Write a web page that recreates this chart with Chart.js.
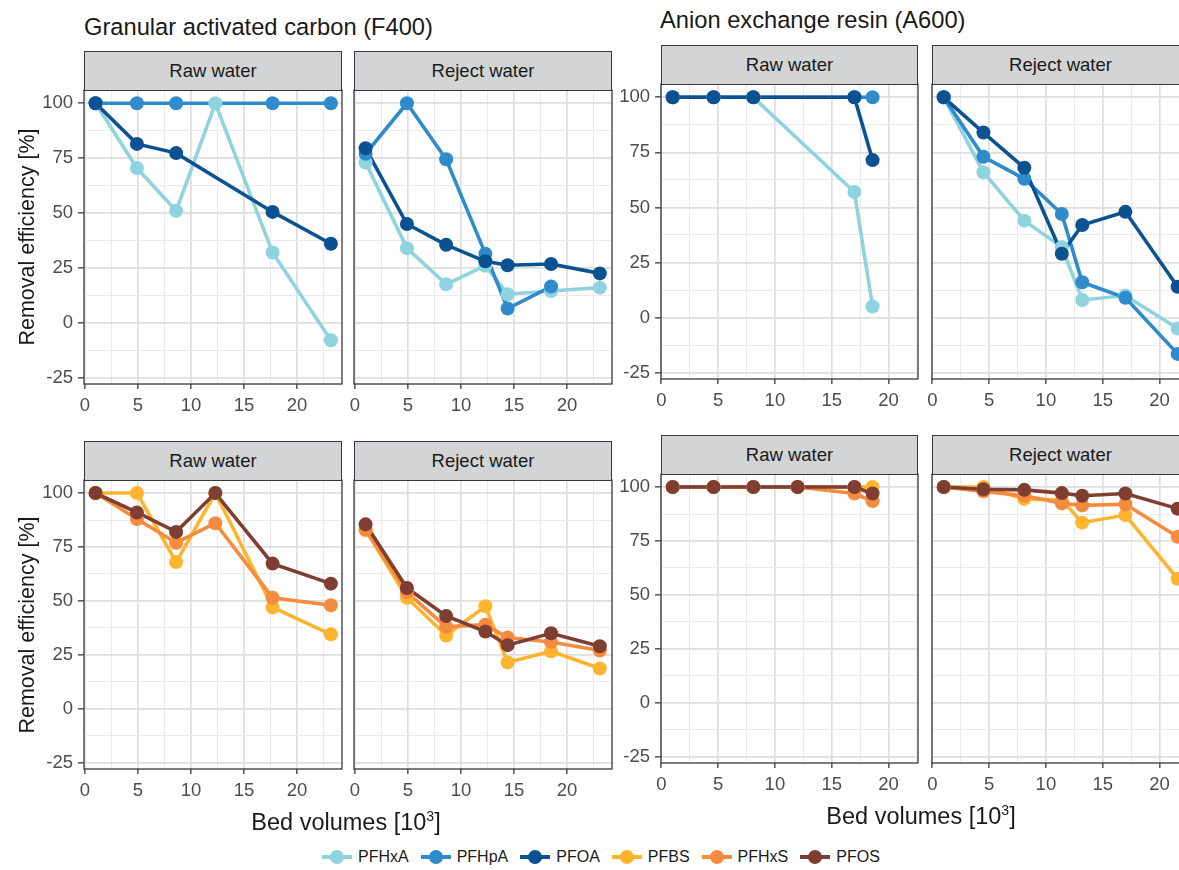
<!DOCTYPE html>
<html>
<head>
<meta charset="utf-8">
<script src="https://cdn.jsdelivr.net/npm/chart.js@4.4.1/dist/chart.umd.min.js"></script>
<style>
html,body{margin:0;padding:0;background:#fff;overflow:hidden;}
#fig{position:relative;width:1179px;height:870px;overflow:hidden;background:#fff;font-family:"Liberation Sans",Arial,Helvetica,sans-serif;color:#1a1a1a;}
#fig canvas{position:absolute;}
.txt{position:absolute;white-space:nowrap;line-height:1;}
.strip{position:absolute;box-sizing:border-box;background:#d3d4d5;border:1.3px solid #333a3d;display:flex;align-items:center;justify-content:center;font-size:18.5px;color:#1a1a1a;}
.ctr{position:absolute;width:0;height:0;}
.ctr span{position:absolute;left:0;top:0;white-space:nowrap;line-height:1;color:#1a1a1a;transform:translate(-50%,-50%);}
.ctr.rot span{transform:translate(-50%,-50%) rotate(-90deg);}
sup{font-size:60%;vertical-align:0;position:relative;top:-0.62em;}
#legend{position:absolute;left:322px;top:847px;height:20px;display:flex;align-items:center;font-size:16px;color:#1a1a1a;}
.li{display:flex;align-items:center;margin-right:12px;}
.sym{position:relative;width:30px;height:20px;margin-right:6px;}
.sym .ln{position:absolute;left:0;top:8.3px;width:30px;height:3.4px;}
.sym .pt{position:absolute;left:8px;top:3px;width:14px;height:14px;border-radius:50%;}
</style>
</head>
<body>
<div id="fig"></div>
<script>
// ---------- series / legend ----------
const legendNames  = ['PFHxA','PFHpA','PFOA','PFBS','PFHxS','PFOS'];
const legendColors = ['#8fd3df','#2f8bcb','#0c5191','#fdb42f','#f58b3f','#7e3e32'];
const seriesTop    = ['PFHxA','PFHpA','PFOA'];
const seriesBottom = ['PFBS','PFHxS','PFOS'];

// ---------- axis ticks ----------
const xTickValues  = [0, 5, 10, 15, 20];
const xMinorTicks  = [2.5, 7.5, 12.5, 17.5, 22.5];
const yTickValues  = [-25, 0, 25, 50, 75, 100];
const yMinorTicks  = [-12.5, 12.5, 37.5, 62.5, 87.5];
const yRange       = [-27.9, 106.05];
const xRangeF400   = [-0.094, 24.25];
const xRangeA600   = [-0.03, 22.6];

// ---------- bed volumes [10^3] ----------
const bvF400Raw    = [1.0, 4.9, 8.6, 12.3, 17.7, 23.2];
const bvF400Reject = [1.0, 4.9, 8.6, 12.3, 14.4, 18.5, 23.1];
const bvA600Raw    = [1.0, 4.6, 8.1, 12.0, 17.0, 18.6];
const bvA600Reject = [1.0, 4.5, 8.1, 11.4, 13.2, 17.0, 21.6];

// ---------- removal efficiency [%] : F400 raw water ----------
const f400RawPFHxA = [100, 70.5, 51, 100, 32, -8];
const f400RawPFHpA = [100, 100, 100, null, 100, 100];
const f400RawPFOA  = [100, 81.5, 77.3, null, 50.5, 36];
const f400RawPFBS  = [100, 100, 68, 100, 47, 34.5];
const f400RawPFHxS = [100, 88, 77, 86, 51.5, 48];
const f400RawPFOS  = [100, 91, 82, 100, 67.3, 58];

// ---------- F400 reject water ----------
const f400RejPFHxA = [73, 34, 17.5, 26, 13, 14.5, 16];
const f400RejPFHpA = [77, 100, 74.5, 31.5, 6.5, 16.5, null];
const f400RejPFOA  = [79.5, 45, 35.5, 28, 26.2, 26.8, 22.5];
const f400RejPFBS  = [83, 51.5, 34, 47.5, 21.5, 26.7, 18.7];
const f400RejPFHxS = [83, 54, 38, 39, 33, 31, 27];
const f400RejPFOS  = [85.5, 56, 43, 35.8, 29.5, 35, 29];

// ---------- A600 raw water ----------
const a600RawPFHxA = [100, 100, 100, null, 57, 5];
const a600RawPFHpA = [100, 100, 100, null, 100, 100];
const a600RawPFOA  = [100, 100, 100, null, 100, 71.5];
const a600RawPFBS  = [100, 100, 100, 100, 100, 100];
const a600RawPFHxS = [100, 100, 100, 100, 97, 93.5];
const a600RawPFOS  = [100, 100, 100, 100, 100, 97];

// ---------- A600 reject water ----------
const a600RejPFHxA = [100, 66, 44, 32, 8, 10, -5];
const a600RejPFHpA = [100, 73, 63, 47, 16, 9, -16.5];
const a600RejPFOA  = [100, 84, 68, 29, 42, 48, 14];
const a600RejPFBS  = [100, 100, 94.5, 94, 83.5, 87, 57.5];
const a600RejPFHxS = [100, 98, 96, 92.5, 91.5, 92, 77];
const a600RejPFOS  = [100, 99, 98.7, 97.2, 96, 97, 90];

// ---------- layout ----------
const fig = document.getElementById('fig');
const FONT = '"Liberation Sans", Arial, Helvetica, sans-serif';
const YW = 70, XH = 40, M = 20;

const panels = [
  {strip:'Raw water',    l:84,  t:90,  w:258, h:294, st:51,  xr:xRangeF400, yl:true,  x:bvF400Raw,    names:seriesTop,    ys:[f400RawPFHxA, f400RawPFHpA, f400RawPFOA]},
  {strip:'Reject water', l:354, t:90,  w:258, h:294, st:51,  xr:xRangeF400, yl:false, x:bvF400Reject, names:seriesTop,    ys:[f400RejPFHxA, f400RejPFHpA, f400RejPFOA]},
  {strip:'Raw water',    l:84,  t:480, w:258, h:289, st:441, xr:xRangeF400, yl:true,  x:bvF400Raw,    names:seriesBottom, ys:[f400RawPFBS, f400RawPFHxS, f400RawPFOS]},
  {strip:'Reject water', l:354, t:480, w:258, h:289, st:441, xr:xRangeF400, yl:false, x:bvF400Reject, names:seriesBottom, ys:[f400RejPFBS, f400RejPFHxS, f400RejPFOS]},
  {strip:'Raw water',    l:661, t:84,  w:257, h:295, st:45,  xr:xRangeA600, yl:true,  x:bvA600Raw,    names:seriesTop,    ys:[a600RawPFHxA, a600RawPFHpA, a600RawPFOA]},
  {strip:'Reject water', l:932, t:84,  w:257, h:295, st:45,  xr:xRangeA600, yl:false, x:bvA600Reject, names:seriesTop,    ys:[a600RejPFHxA, a600RejPFHpA, a600RejPFOA]},
  {strip:'Raw water',    l:661, t:474, w:257, h:289, st:435, xr:xRangeA600, yl:true,  x:bvA600Raw,    names:seriesBottom, ys:[a600RawPFBS, a600RawPFHxS, a600RawPFOS]},
  {strip:'Reject water', l:932, t:474, w:257, h:289, st:435, xr:xRangeA600, yl:false, x:bvA600Reject, names:seriesBottom, ys:[a600RejPFBS, a600RejPFHxS, a600RejPFOS]}
];

const isMajor = (v, list) => list.some(m => Math.abs(m - v) < 1e-9);

const borderPlugin = {
  id: 'panelBorder',
  afterDraw(chart) {
    const a = chart.chartArea, c = chart.ctx;
    c.save();
    c.strokeStyle = '#333a3d';
    c.lineWidth = 1.3;
    c.strokeRect(a.left, a.top, a.right - a.left, a.bottom - a.top);
    c.restore();
  }
};

function makePanel(p) {
  const c = document.createElement('canvas');
  const cw = YW + p.w + M, ch = M + p.h + XH;
  c.width = cw; c.height = ch;
  c.style.left = (p.l - YW) + 'px';
  c.style.top = (p.t - M) + 'px';
  c.style.width = cw + 'px';
  c.style.height = ch + 'px';
  fig.appendChild(c);

  const datasets = [];
  p.names.forEach((name, i) => {
    const col = legendColors[legendNames.indexOf(name)];
    const pts = p.x.map((x, j) => ({x: x, y: p.ys[i][j]})).filter(d => d.y !== null);
    datasets.push({label: name + ' line', data: pts, borderColor: col, backgroundColor: col,
      borderWidth: 3.6, pointRadius: 0, tension: 0, order: 10 + (2 - i)});
    datasets.push({label: name, data: pts, showLine: false, borderColor: col, backgroundColor: col,
      pointBackgroundColor: col, pointBorderWidth: 0, pointRadius: 7, order: 2 - i});
  });

  const xAll = xTickValues.concat(xMinorTicks).filter(v => v >= p.xr[0] && v <= p.xr[1]).sort((a, b) => a - b);
  const yAll = yTickValues.concat(yMinorTicks).sort((a, b) => a - b);

  new Chart(c, {
    type: 'line',
    data: {datasets},
    options: {
      responsive: false, animation: false, events: [],
      layout: {padding: {top: M, right: M, left: 0, bottom: 0}},
      plugins: {legend: {display: false}, tooltip: {enabled: false}},
      scales: {
        x: {
          type: 'linear', min: p.xr[0], max: p.xr[1],
          afterBuildTicks: s => { s.ticks = xAll.map(v => ({value: v})); },
          afterFit: s => { s.height = XH; },
          border: {display: false},
          grid: {
            color: ctx => isMajor(ctx.tick.value, xTickValues) ? '#dedede' : '#ebebeb',
            lineWidth: ctx => isMajor(ctx.tick.value, xTickValues) ? 1.7 : 1.0,
            tickLength: 5,
            tickColor: ctx => isMajor(ctx.tick.value, xTickValues) ? '#333a3d' : 'rgba(0,0,0,0)',
            tickWidth: 1.3
          },
          ticks: {
            autoSkip: false, maxRotation: 0, minRotation: 0, padding: 6,
            color: '#4d4d4d', font: {family: FONT, size: 18.5},
            callback: v => isMajor(v, xTickValues) ? String(v) : ''
          }
        },
        y: {
          type: 'linear', min: yRange[0], max: yRange[1],
          afterBuildTicks: s => { s.ticks = yAll.map(v => ({value: v})); },
          afterFit: s => { s.width = YW; },
          border: {display: false},
          grid: {
            color: ctx => isMajor(ctx.tick.value, yTickValues) ? '#dedede' : '#ebebeb',
            lineWidth: ctx => isMajor(ctx.tick.value, yTickValues) ? 1.7 : 1.0,
            drawTicks: p.yl,
            tickLength: 6,
            tickColor: ctx => isMajor(ctx.tick.value, yTickValues) ? '#333a3d' : 'rgba(0,0,0,0)',
            tickWidth: 1.3
          },
          ticks: {
            display: p.yl, autoSkip: false, padding: 5,
            color: '#4d4d4d', font: {family: FONT, size: 18.5},
            callback: v => isMajor(v, yTickValues) ? String(v) : ''
          }
        }
      }
    },
    plugins: [borderPlugin]
  });

  const s = document.createElement('div');
  s.className = 'strip';
  s.style.left = p.l + 'px';
  s.style.top = p.st + 'px';
  s.style.width = p.w + 'px';
  s.style.height = (p.t - p.st + 1) + 'px';
  s.textContent = p.strip;
  fig.appendChild(s);
}

panels.forEach(makePanel);

// ---------- titles ----------
function addText(html, left, top, size) {
  const d = document.createElement('div');
  d.className = 'txt';
  d.style.left = left + 'px'; d.style.top = top + 'px'; d.style.fontSize = size + 'px';
  d.innerHTML = html;
  fig.appendChild(d);
}
function addCentered(html, cx, cy, rot, size) {
  const d = document.createElement('div');
  d.className = 'ctr' + (rot ? ' rot' : '');
  d.style.left = cx + 'px'; d.style.top = cy + 'px';
  d.innerHTML = '<span style="font-size:' + size + 'px">' + html + '</span>';
  fig.appendChild(d);
}
addText('Granular activated carbon (F400)', 84, 16, 23.7);
addText('Anion exchange resin (A600)', 660, 9, 23.7);
addCentered('Removal efficiency [%]', 28, 237, true, 21.5);
addCentered('Removal efficiency [%]', 28, 625, true, 21.5);
addCentered('Bed volumes [10<sup>3</sup>]', 346, 823, false, 23.5);
addCentered('Bed volumes [10<sup>3</sup>]', 921, 817, false, 23.5);

// ---------- legend ----------
const lg = document.createElement('div');
lg.id = 'legend';
legendNames.forEach((n, i) => {
  const it = document.createElement('div');
  it.className = 'li';
  it.innerHTML = '<div class="sym"><div class="ln" style="background:' + legendColors[i] + '"></div><div class="pt" style="background:' + legendColors[i] + '"></div></div><span>' + n + '</span>';
  lg.appendChild(it);
});
fig.appendChild(lg);
</script>
</body>
</html>
